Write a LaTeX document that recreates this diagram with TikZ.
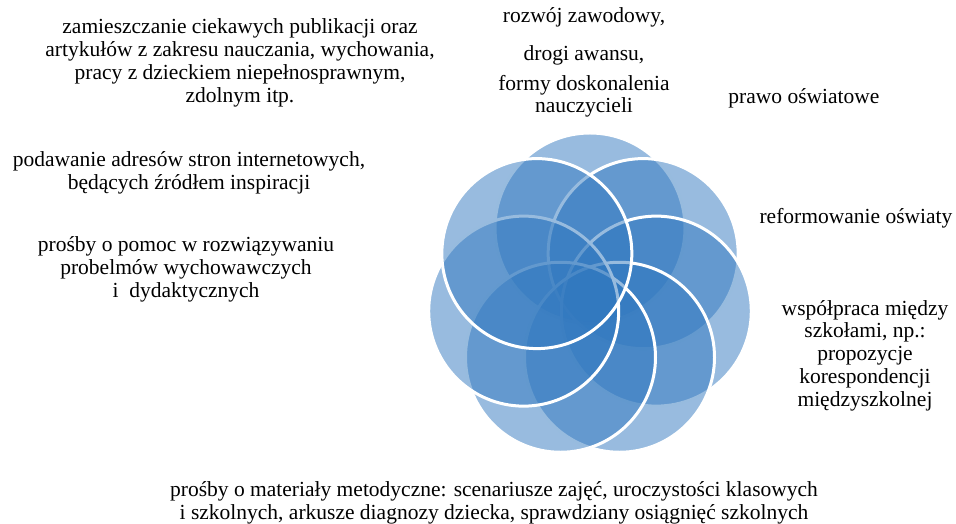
\documentclass[tikz,border=0pt]{standalone}
\usepackage{fontspec}
\setmainfont{Liberation Serif}
\usepackage{tikz}
\definecolor{petalblue}{HTML}{3178BF}

\begin{document}
\begin{tikzpicture}[x=1pt, y=1pt,
        petal/.style={
        circle,
        draw=white,
        line width=3pt,
        fill=petalblue,
        fill opacity=0.5,
        minimum size=190pt,
        inner sep=0pt},
        topic/.style={
        align=center,
        text=black,
        inner sep=0pt,
        font=\fontsize{21.5}{22.8}\selectfont}]

        \useasboundingbox (0,0) rectangle (956,524);
        \coordinate (hub) at (590,228);
        % seven petals, clockwise from the top
        \foreach \k in {0,...,6}
            \node[petal] (petal\k) at ([shift={(90-\k*360/7:68)}]hub) {};

        \node[topic] (journals) at (240,461) {zamieszczanie ciekawych publikacji oraz\\artykułów z zakresu nauczania, wychowania,\\pracy z dzieckiem niepełnosprawnym,\\zdolnym itp.};
        \node[topic] (links) at (189,351) {podawanie adresów stron internetowych,\\będących źródłem inspiracji};
        \node[topic] (help) at (186,254.5) {prośby o pomoc w rozwiązywaniu\\probelmów wychowawczych\\i\ \ dydaktycznych};
        \node[topic] (career) at (584,461.5) {rozwój zawodowy,\\[15pt]drogi awansu,\\[7pt]formy doskonalenia\\nauczycieli};
        \node[topic] (law) at (804,425.5) {prawo oświatowe};
        \node[topic] (reform) at (856,305.5) {reformowanie oświaty};
        \node[topic] (schools) at (865,168.5) {współpraca między\\szkołami, np.:\\propozycje\\korespondencji\\międzyszkolnej};
        \node[topic] (materials) at (494,21.5) {prośby o materiały metodyczne: scenariusze zajęć, uroczystości klasowych\\i szkolnych, arkusze diagnozy dziecka, sprawdziany osiągnięć szkolnych};
\end{tikzpicture}
\end{document}
